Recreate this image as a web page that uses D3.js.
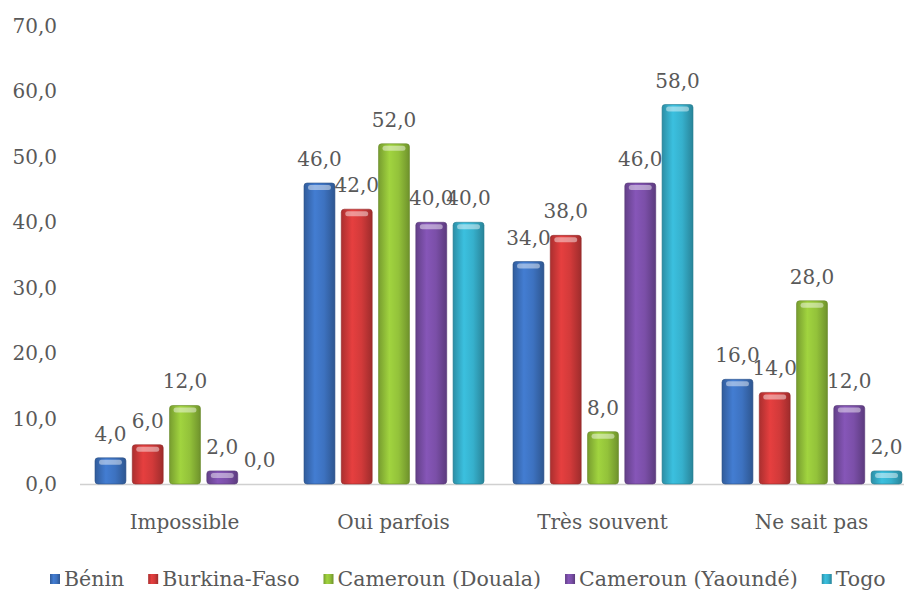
<!DOCTYPE html>
<html>
<head>
<meta charset="utf-8">
<script src="https://cdn.jsdelivr.net/npm/d3@7"></script>
<style>
  body { margin: 0; background: #fff; }
  svg { display: block; }
  text { font-family: "DejaVu Serif", serif; fill: #595959; }
</style>
</head>
<body>
<div id="chart"></div>
<script>
// data
const categories = ["Impossible", "Oui parfois", "Très souvent", "Ne sait pas"];
const series = ["Bénin", "Burkina-Faso", "Cameroun (Douala)", "Cameroun (Yaoundé)", "Togo"];
const benin = [4, 46, 34, 16];
const burkina = [6, 42, 38, 14];
const douala = [12, 52, 8, 28];
const yaounde = [2, 40, 46, 12];
const togo = [0, 40, 58, 2];
const yTicks = [0, 10, 20, 30, 40, 50, 60, 70];
const values = [benin, burkina, douala, yaounde, togo];

const colors = ["#3d72c0", "#d23a3a", "#93c23a", "#7b4fa8", "#36b0cc"];
const fmt = v => d3.format(".1f")(v).replace(".", ",");

const width = 904, height = 595;
const svg = d3.select("#chart").append("svg")
    .attr("width", width)
    .attr("height", height);

// scales
const x = d3.scaleBand()
    .domain(categories)
    .range([80, 916]);

const xs = d3.scaleBand()
    .domain(series)
    .range([15, 195])
    .paddingInner(0.17);

const y = d3.scaleLinear()
    .domain([0, 70])
    .range([484, 26]);

// gradients for the "cylinder" look
const defs = svg.append("defs");
colors.forEach((c, i) => {
    const g = defs.append("linearGradient")
        .attr("id", "grad" + i)
        .attr("x1", "0%").attr("x2", "100%")
        .attr("y1", "0%").attr("y2", "0%");
    g.append("stop").attr("offset", "0%").attr("stop-color", d3.color(c).darker(0.6));
    g.append("stop").attr("offset", "35%").attr("stop-color", d3.color(c).brighter(0.25));
    g.append("stop").attr("offset", "65%").attr("stop-color", c);
    g.append("stop").attr("offset", "100%").attr("stop-color", d3.color(c).darker(0.8));
});

// y axis labels
svg.append("g")
    .selectAll("text")
    .data(yTicks)
    .join("text")
    .attr("x", 57)
    .attr("y", d => y(d))
    .attr("dy", "0.35em")
    .attr("text-anchor", "end")
    .style("font-size", "20px")
    .text(d => fmt(d));

// baseline
svg.append("line")
    .attr("x1", 80).attr("x2", width)
    .attr("y1", y(0) + 0.5).attr("y2", y(0) + 0.5)
    .attr("stroke", "#d0d0d0")
    .attr("stroke-width", 1.5);

// bars
const groups = svg.append("g")
    .selectAll("g")
    .data(series)
    .join("g")
    .attr("class", "series");

groups.each(function(s, i) {
    const g = d3.select(this);
    const data = categories.map((c, j) => ({cat: c, value: values[i][j]}));
    const bx = d => x(d.cat) + xs(s);
    const bw = xs.bandwidth();

    g.selectAll("rect.bar")
        .data(data.filter(d => d.value > 0))
        .join("rect")
        .attr("class", "bar")
        .attr("x", bx)
        .attr("y", d => y(d.value))
        .attr("width", bw)
        .attr("height", d => y(0) - y(d.value))
        .attr("rx", 3)
        .attr("fill", "url(#grad" + i + ")")
        .attr("stroke", d3.color(colors[i]).darker(1))
        .attr("stroke-opacity", 0.6)
        .attr("stroke-width", 1);

    // top highlight
    g.selectAll("rect.cap")
        .data(data.filter(d => d.value > 0))
        .join("rect")
        .attr("class", "cap")
        .attr("x", d => bx(d) + 4)
        .attr("y", d => y(d.value) + 2)
        .attr("width", bw - 8)
        .attr("height", 5)
        .attr("rx", 2.5)
        .attr("fill", "#ffffff")
        .attr("opacity", 0.45);

    // value labels
    g.selectAll("text")
        .data(data)
        .join("text")
        .attr("x", d => bx(d) + bw / 2)
        .attr("y", d => y(d.value) - 24)
        .attr("dy", "0.35em")
        .attr("text-anchor", "middle")
        .style("font-size", "20px")
        .text(d => fmt(d.value));
});

// category labels
svg.append("g")
    .selectAll("text")
    .data(categories)
    .join("text")
    .attr("x", d => x(d) + x.bandwidth() / 2)
    .attr("y", 522)
    .attr("dy", "0.35em")
    .attr("text-anchor", "middle")
    .style("font-size", "20px")
    .text(d => d);

// legend
const legend = svg.append("g").attr("class", "legend");
let lx = 50;
series.forEach((s, i) => {
    const item = legend.append("g").attr("transform", `translate(${lx}, 579)`);
    item.append("rect")
        .attr("x", 0).attr("y", -5)
        .attr("width", 10).attr("height", 10)
        .attr("fill", "url(#grad" + i + ")");
    const t = item.append("text")
        .attr("x", 14)
        .attr("dy", "0.35em")
        .style("font-size", "20.5px")
        .text(s);
    lx += 14 + t.node().getComputedTextLength() + 24;
});
</script>
</body>
</html>
